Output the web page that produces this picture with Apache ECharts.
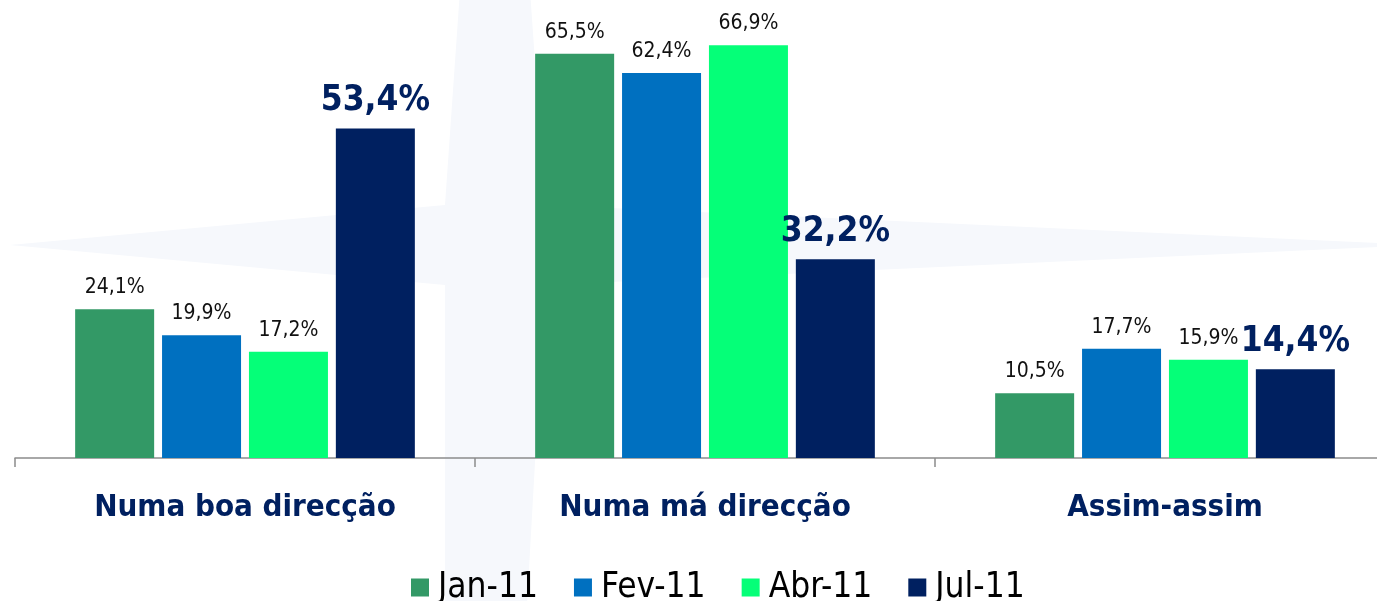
<!DOCTYPE html>
<html>
<head>
<meta charset="utf-8">
<title>Direcção do país</title>
<script src="https://cdn.jsdelivr.net/npm/echarts@6/dist/echarts.min.js"></script>
<style>
    html, body { margin: 0; padding: 0; background: #fff; overflow: hidden; }
    /* a bit wider than the window: the last category runs past the right edge */
    #chart { width: 1400px; height: 601px; }
</style>
</head>
<body>
<div id="chart"></div>
<script>
    'use strict';

    var categories = ['Numa boa direcção', 'Numa má direcção', 'Assim-assim'];
    var seriesNames = ['Jan-11', 'Fev-11', 'Abr-11', 'Jul-11'];
    var jan11 = [24.1, 65.5, 10.5];
    var fev11 = [19.9, 62.4, 17.7];
    var abr11 = [17.2, 66.9, 15.9];
    var jul11 = [53.4, 32.2, 14.4];

    var colors = ['#339966', '#0070C0', '#05FF78', '#002060'];
    var values = [jan11, fev11, abr11, jul11];

    var font = '"DejaVu Sans Condensed", "DejaVu Sans", sans-serif';

    function pct(p) {
        return p.value.toFixed(1).replace('.', ',') + '%';
    }

    var series = [];
    for (var i = 0; i < seriesNames.length; i++) {
        var last = i === seriesNames.length - 1;
        series.push({
            name: seriesNames[i],
            type: 'bar',
            data: values[i],
            barWidth: 79,
            barGap: '10%',
            itemStyle: { color: colors[i] },
            label: {
                show: true,
                position: 'top',
                distance: last ? 10 : 11,
                formatter: pct,
                fontFamily: font,
                fontSize: last ? 35 : 21,
                fontWeight: last ? 'bold' : 'normal',
                color: last ? '#002060' : '#111'
            }
        });
    }

    var chart = echarts.init(document.getElementById('chart'));
    chart.setOption({
        animation: false,
        backgroundColor: '#fff',
        // faint compass-star watermark behind the bars
        graphic: [{
            type: 'polygon',
            z: -10,
            silent: true,
            shape: {
                points: [[460, -10], [530, -10], [545, 205], [1420, 245], [545, 285],
                         [525, 640], [445, 640], [445, 285], [10, 245], [445, 205]]
            },
            style: { fill: '#f6f8fc' }
        }],
        grid: { left: 15, top: 26, right: 5, bottom: 143, containLabel: false },
        legend: {
            left: 406,
            top: 565,
            icon: 'rect',
            itemWidth: 18,
            itemHeight: 18,
            itemGap: 36,
            textStyle: { fontFamily: font, fontSize: 35, color: '#000', padding: [0, 0, 0, 4] },
            data: seriesNames
        },
        xAxis: {
            type: 'category',
            data: categories,
            axisLine: { lineStyle: { color: '#8c8c8c', width: 1.5 } },
            axisTick: { show: true, length: 9, lineStyle: { color: '#8c8c8c', width: 1.5 } },
            axisLabel: {
                interval: 0,
                margin: 34,
                fontFamily: font,
                fontSize: 31,
                fontWeight: 'bold',
                color: '#002060'
            }
        },
        yAxis: {
            type: 'value',
            min: 0,
            max: 70,
            show: false,
            splitLine: { show: false }
        },
        series: series
    });
</script>
</body>
</html>
